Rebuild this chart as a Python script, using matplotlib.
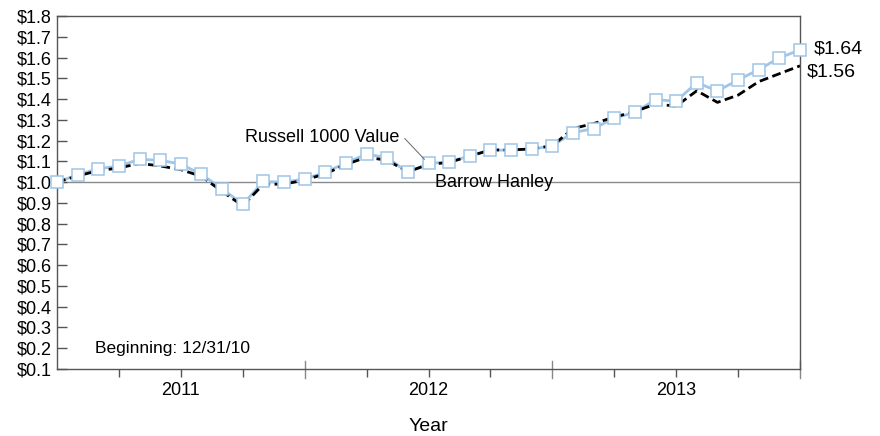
import numpy as np
import matplotlib
matplotlib.use("Agg")
import matplotlib.pyplot as plt

plt.rcParams['font.family'] = ['Liberation Sans Narrow', 'Liberation Sans', 'DejaVu Sans']

# growth of $1, month ends 12/31/10 .. 12/31/13
marker_vals = [1.00, 1.035, 1.065, 1.077, 1.11, 1.105, 1.087, 1.037, 0.968, 0.893,
               1.003, 1.0, 1.015, 1.047, 1.093, 1.134, 1.118, 1.047, 1.09, 1.097,
               1.126, 1.154, 1.154, 1.159, 1.175, 1.238, 1.258, 1.308, 1.336, 1.397,
               1.39, 1.479, 1.439, 1.492, 1.542, 1.598, 1.637]
dash_vals = [1.0, 1.03, 1.055, 1.068, 1.09, 1.078, 1.06, 1.028, 0.955, 0.886,
             0.99, 0.99, 1.01, 1.04, 1.085, 1.12, 1.105, 1.05, 1.085, 1.095,
             1.125, 1.155, 1.155, 1.16, 1.175, 1.258, 1.282, 1.313, 1.34, 1.376,
             1.366, 1.44, 1.384, 1.419, 1.484, 1.522, 1.56]
years = ['2011', '2012', '2013']
y_ticks = [round(0.1 * k, 1) for k in range(1, 19)]

months = np.arange(len(marker_vals))

fig = plt.figure(figsize=(8.8, 4.36), dpi=100)
ax = fig.add_axes([57/880, 1 - 369/436, (800-57)/880, (369-16)/436])

light_blue = '#9fc5e8'
ax.axhline(1.0, color='#8a8a8a', lw=1.0, zorder=1)
ax.plot(months, marker_vals, color=light_blue, lw=2.0, zorder=2)
ax.plot(months, dash_vals, color='black', lw=2.0, dashes=(3.2, 1.6), zorder=3)
ax.plot(months, marker_vals, ls='none', marker='s', ms=8, mfc='white',
        mec=light_blue, mew=1.1, zorder=4, clip_on=False)

ax.set_xlim(0, 36)
ax.set_ylim(0.1, 1.8)

# y axis
ax.set_yticks(y_ticks)
ax.set_yticklabels(['$%.1f' % v for v in y_ticks], fontsize=13)
ax.tick_params(axis='y', direction='in', length=7, width=1, color='#555555', pad=4)

# x axis: quarter ticks below, year boundary ticks across
ax.set_xticks([3, 6, 9, 15, 18, 21, 27, 30, 33])
ax.set_xticklabels([])
ax.tick_params(axis='x', which='major', direction='out', length=6, width=1, color='#555555')
for xb in [12, 24, 36]:
    ax.plot([xb, xb], [-0.025, 0.024], transform=ax.get_xaxis_transform(),
            color='#888888', lw=1, clip_on=False)
for k, yr in enumerate(years):
    ax.text(6 + 12 * k, -0.062, yr, transform=ax.get_xaxis_transform(),
            ha='center', va='center', fontsize=13)
ax.text(18, -0.163, 'Year', transform=ax.get_xaxis_transform(),
        ha='center', va='center', fontsize=14)

for sp in ax.spines.values():
    sp.set_color('#555555')
    sp.set_linewidth(1)

# annotations
ax.text(36.65, marker_vals[-1] + 0.005, '$%.2f' % marker_vals[-1], ha='left', va='center', fontsize=14)
ax.text(36.35, dash_vals[-1] - 0.03, '$%.2f' % dash_vals[-1], ha='left', va='center', fontsize=14)
ax.text(16.6, 1.215, 'Russell 1000 Value', ha='right', va='center', fontsize=13)
ax.plot([16.85, 17.8], [1.21, 1.11], color='#666666', lw=0.7, zorder=5)
ax.text(21.2, 0.996, 'Barrow Hanley', ha='center', va='center', fontsize=13)
ax.text(1.85, 0.2, 'Beginning: 12/31/10', ha='left', va='center', fontsize=12.5)

fig.savefig('out.png', dpi=100)
